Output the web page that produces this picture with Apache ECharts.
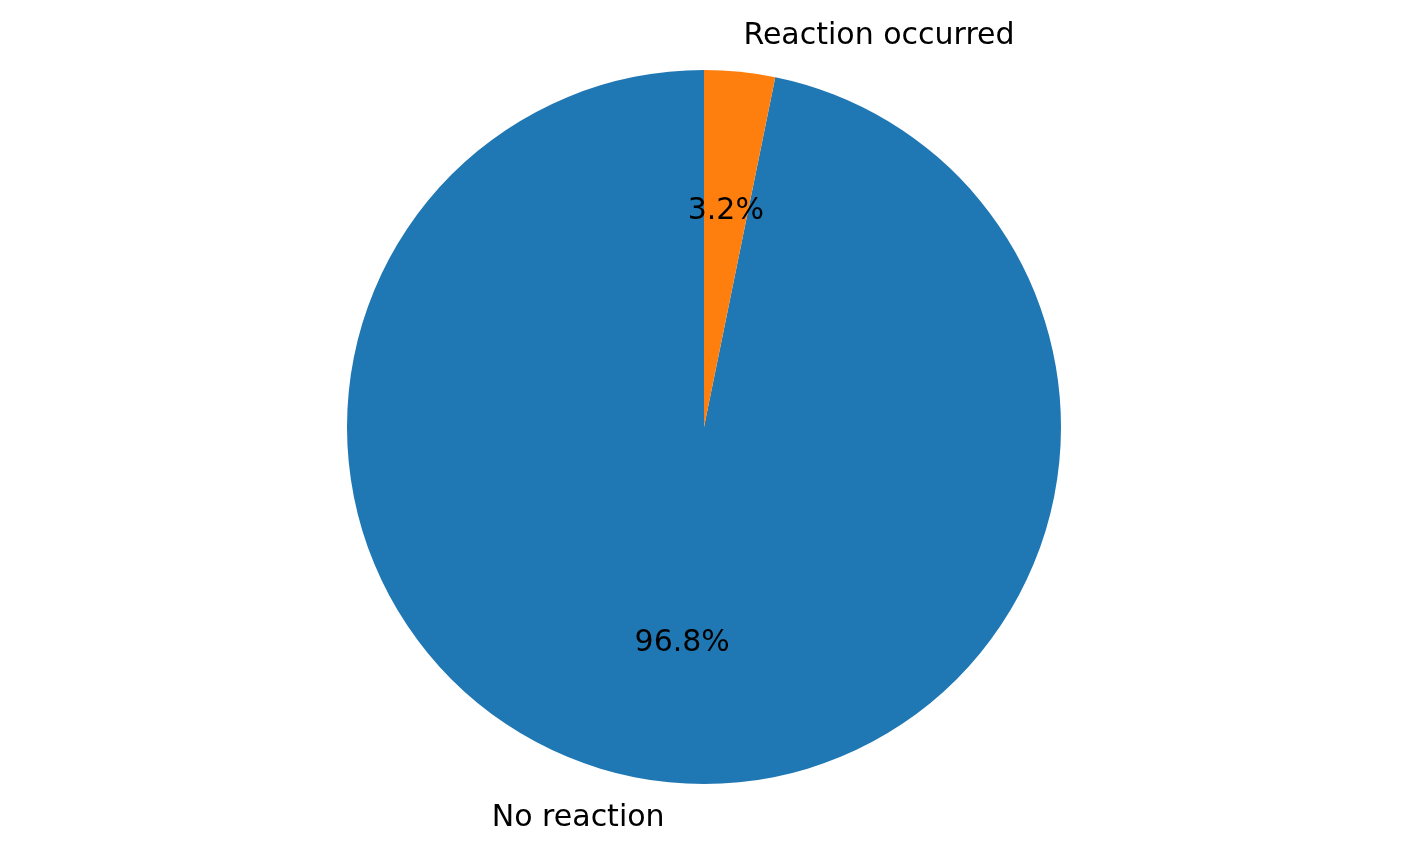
<!DOCTYPE html>
<html>
<head>
<meta charset="utf-8">
<script src="https://cdn.jsdelivr.net/npm/echarts@6/dist/echarts.min.js"></script>
<style>
html,body{margin:0;padding:0;background:#fff;}
#c{width:1407px;height:855px;}
</style>
</head>
<body>
<div id="c"></div>
<script>
const categories = ["No reaction", "Reaction occurred"];
const values = [96.8, 3.2];
const colors = ["#1f77b4", "#ff7f0e"];

const R = 357;
const center = [704, 427];
const font = "DejaVu Sans";
const fs = 30;

const data = categories.map((n, i) => ({ name: n, value: values[i], itemStyle: { color: colors[i] } }));

const chart = echarts.init(document.getElementById('c'), null, { renderer: 'canvas' });
chart.setOption({
  animation: false,
  backgroundColor: '#fff',
  series: [
    {
      type: 'pie',
      center: center,
      radius: [0, R],
      startAngle: 90,
      clockwise: false,
      avoidLabelOverlap: false,
      data: data,
      itemStyle: { borderWidth: 0 },
      label: {
        show: true,
        position: 'outside',
        formatter: '{b}',
        fontFamily: font,
        fontSize: fs,
        color: '#000',
        distanceToLabelLine: 0,
        alignTo: 'none'
      },
      labelLine: { show: false, length: R * 0.1, length2: 0 },
      emphasis: { disabled: true }
    },
    {
      type: 'pie',
      center: center,
      radius: [0, R * 1.2],
      startAngle: 90,
      clockwise: false,
      silent: true,
      data: categories.map((n, i) => ({ name: n, value: values[i] })),
      itemStyle: { color: 'rgba(0,0,0,0)', borderWidth: 0 },
      label: {
        show: true,
        position: 'inside',
        formatter: p => p.value.toFixed(1) + '%',
        fontFamily: font,
        fontSize: fs,
        color: '#000'
      },
      labelLine: { show: false },
      emphasis: { disabled: true }
    }
  ]
});
</script>
</body>
</html>
